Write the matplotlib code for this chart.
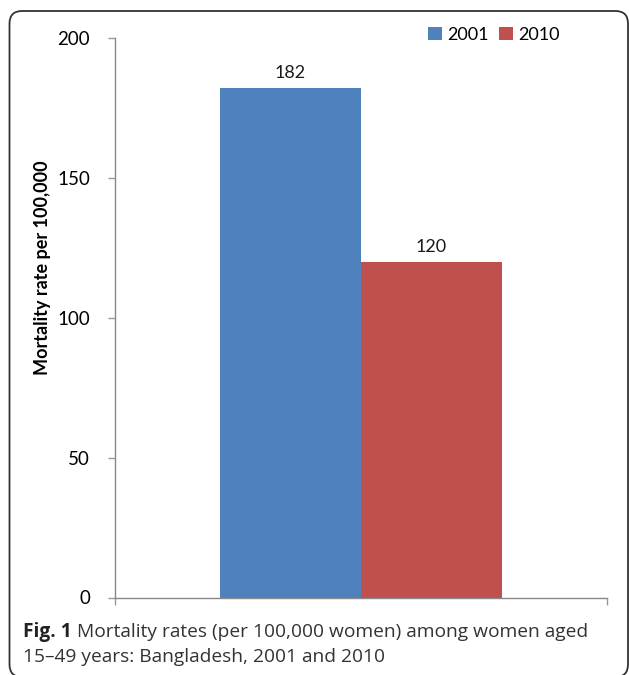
import matplotlib
matplotlib.use("Agg")
import matplotlib.pyplot as plt
from matplotlib.patches import FancyBboxPatch

years = ["2001", "2010"]
rates = [182, 120]
colors = ["#4F81BD", "#C0504D"]
yticks = [0, 50, 100, 150, 200]
ylabel = "Mortality rate per 100,000"
cap_bold = "Fig. 1"
cap_line1 = " Mortality rates (per 100,000 women) among women aged"
cap_line2 = "15\u201349 years: Bangladesh, 2001 and 2010"

W, H = 629, 675
fig = plt.figure(figsize=(W / 100, H / 100), dpi=100)
ax = fig.add_axes([115 / W, 1 - 597.5 / H, 492 / W, 559.8 / H])

# one category, two bars side by side (Excel style)
bw = 0.2866
for i, (yr, val, c) in enumerate(zip(years, rates, colors)):
    x = (i - 0.5) * bw
    ax.bar(x, val, width=bw, color=c, label=yr)
    ax.text(x, val + 2.5, str(val), ha="center", va="bottom",
            fontsize=13, family="Lato", color="#1a1a1a")

ax.set_xlim(-0.5, 0.5)
ax.set_ylim(0, 200)
ax.set_yticks(yticks)
ax.set_yticklabels([str(t) for t in yticks], family="Lato", fontsize=13.5)
ax.set_xticks([-0.5, 0.5])
ax.set_xticklabels([])
ax.tick_params(axis="both", direction="out", length=5, color="#999999", width=1)
ax.tick_params(axis="y", pad=13)
for s in ["top", "right"]:
    ax.spines[s].set_visible(False)
for s in ["left", "bottom"]:
    ax.spines[s].set_color("#888888")
    ax.spines[s].set_linewidth(1)

fig.text(43 / W, 1 - 268 / H, ylabel, rotation=90, ha="center", va="center",
         fontsize=13, fontweight="bold", family="Lato")

leg = ax.legend(loc="upper left", bbox_to_anchor=(428 / W, 1 - 27 / H),
                bbox_transform=fig.transFigure, ncol=2, frameon=False,
                prop={"family": "Lato", "size": 13}, handlelength=0.75,
                handleheight=0.75, handletextpad=0.3, columnspacing=0.6,
                borderaxespad=0, borderpad=0)

# rounded frame around figure, bottom edge falls just off the canvas
box = FancyBboxPatch((9.5 / W, 1 - 677 / H), (628 - 9.5) / W, (677 - 11) / H,
                     boxstyle="round,pad=0,rounding_size=0.02",
                     mutation_aspect=W / H, transform=fig.transFigure,
                     facecolor="none", edgecolor="#333333", linewidth=1.3)
fig.patches.append(box)

# caption: bold label then normal text
r = fig.canvas.get_renderer()
t = fig.text(23 / W, 1 - 632 / H, cap_bold, fontsize=13.8, fontweight="bold",
             family="Open Sans", va="center", color="#222222")
bb = t.get_window_extent(renderer=r)
fig.text(bb.x1 / W, 1 - 632 / H, cap_line1, fontsize=13.8, family="Open Sans",
         va="center", color="#333333")
fig.text(23 / W, 1 - 657 / H, cap_line2, fontsize=13.8, family="Open Sans",
         va="center", color="#333333")

fig.savefig("out.png", dpi=100)
